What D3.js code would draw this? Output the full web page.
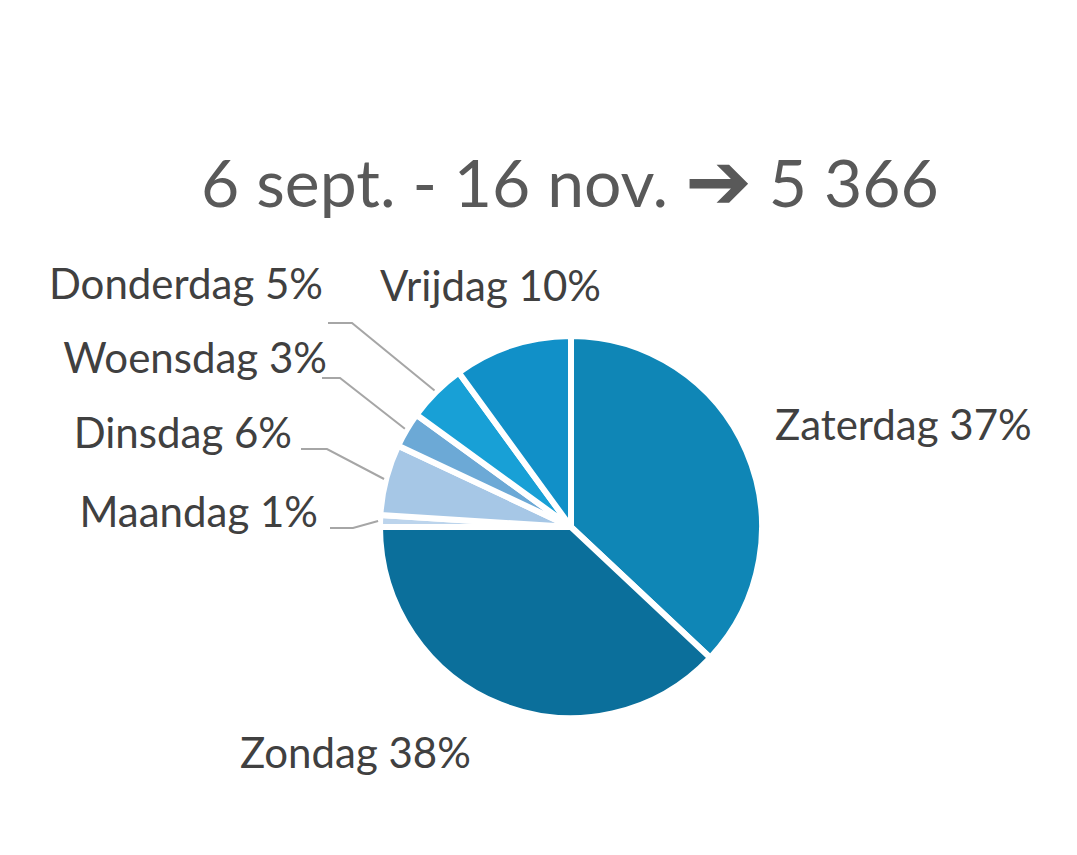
<!DOCTYPE html>
<html lang="nl">
<head>
<meta charset="utf-8">
<title>6 sept. - 16 nov.</title>
<script src="https://cdn.jsdelivr.net/npm/d3@7/dist/d3.min.js"></script>
<style>
  body { margin: 0; background: #fff; }
  svg text { font-family: Lato, "Noto Sans", sans-serif; }
</style>
</head>
<body>
<div id="viz"></div>
<script>
// data: order as the slices run clockwise from 12 o'clock
var days = ["Zaterdag", "Zondag", "Maandag", "Dinsdag", "Woensdag", "Donderdag", "Vrijdag"];
var shares = [37, 38, 1, 6, 3, 5, 10];
var colors = ["#0f86b6", "#0b6f9b", "#bcd4ec", "#a6c7e6", "#6ca9d6", "#18a0d6", "#1190c8"];
var titleParts = ["6 sept. - 16 nov.", "\u2794", "5 366"];

var w = 1077, h = 855;
var cx = 571, cy = 527, r = 191;

// where each label sits, plus the elbow of its leader line (null = no line)
var labelPos = {
  "Zaterdag":  {x: 775, y: 440, anchor: "start", elbow: null},
  "Zondag":    {x: 240, y: 768, anchor: "start", elbow: null},
  "Maandag":   {x: 318, y: 527, anchor: "end", elbow: [[330, 528], [353, 528]]},
  "Dinsdag":   {x: 292, y: 448, anchor: "end", elbow: [[301, 449], [327, 449]]},
  "Woensdag":  {x: 327, y: 373, anchor: "end", elbow: [[322, 378], [340, 378]]},
  "Donderdag": {x: 323, y: 299, anchor: "end", elbow: [[328, 323], [352, 323]]},
  "Vrijdag":   {x: 380, y: 301, anchor: "start", elbow: null}
};

var svg = d3.select("#viz").append("svg")
    .attr("width", w)
    .attr("height", h);

// title
var title = svg.append("text")
    .attr("x", 570)
    .attr("y", 207)
    .attr("text-anchor", "middle")
    .attr("font-size", 66)
    .attr("fill", "#595959");
title.append("tspan").text(titleParts[0] + " ");
title.append("tspan")
    .attr("font-family", "DejaVu Sans")
    .attr("font-weight", "bold")
    .attr("font-size", 80)
    .attr("dy", 2)
    .text(titleParts[1]);
title.append("tspan").attr("dy", -2).text(" " + titleParts[2]);

var data = days.map(function(d, i) { return {day: d, value: shares[i], color: colors[i]}; });

var pie = d3.pie()
    .sort(null)
    .value(function(d) { return d.value; })
    .startAngle(0)
    .endAngle(2 * Math.PI);

var arc = d3.arc().innerRadius(0).outerRadius(r);

var arcs = pie(data);

var g = svg.append("g").attr("transform", "translate(" + cx + "," + cy + ")");

g.selectAll("path.slice")
  .data(arcs)
  .enter()
  .append("path")
    .attr("class", "slice")
    .attr("d", arc)
    .attr("fill", function(d) { return d.data.color; })
    .attr("stroke", "#fff")
    .attr("stroke-width", 6)
    .attr("stroke-linejoin", "round");

// leader lines
arcs.forEach(function(a) {
  var p = labelPos[a.data.day];
  if (!p.elbow) return;
  var mid = (a.startAngle + a.endAngle) / 2;
  var end = [cx + Math.sin(mid) * (r + 2), cy - Math.cos(mid) * (r + 2)];
  svg.append("polyline")
     .attr("points", [p.elbow[0], p.elbow[1], end].map(function(q) { return q.join(","); }).join(" "))
     .attr("fill", "none")
     .attr("stroke", "#a6a6a6")
     .attr("stroke-width", 2);
});

// labels
svg.selectAll("text.lbl")
  .data(arcs)
  .enter()
  .append("text")
    .attr("class", "lbl")
    .attr("x", function(d) { return labelPos[d.data.day].x; })
    .attr("y", function(d) { return labelPos[d.data.day].y; })
    .attr("text-anchor", function(d) { return labelPos[d.data.day].anchor; })
    .attr("font-size", 42)
    .attr("fill", "#404040")
    .text(function(d) { return d.data.day + " " + d.data.value + "%"; });
</script>
</body>
</html>
